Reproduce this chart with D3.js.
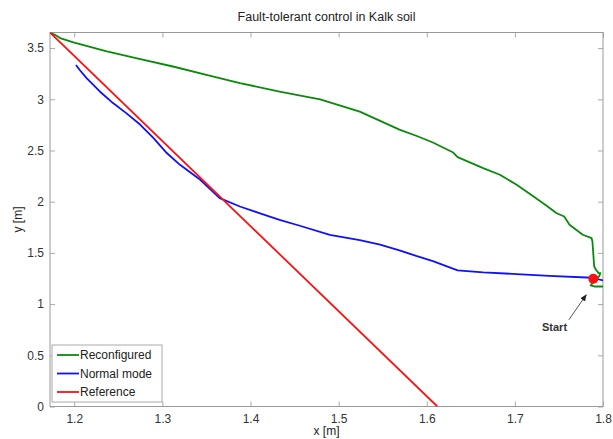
<!DOCTYPE html>
<html>
<head>
<meta charset="utf-8">
<script src="https://cdn.jsdelivr.net/npm/d3@7"></script>
<style>
  body { margin: 0; background: #fff; }
  svg { font-family: "Liberation Sans", Arial, sans-serif; }
  .tick text { fill: #333; font-size: 12px; }
</style>
</head>
<body>
<script>
// chart values
var xTicks = [1.2, 1.3, 1.4, 1.5, 1.6, 1.7, 1.8];
var yTicks = [0, 0.5, 1, 1.5, 2, 2.5, 3, 3.5];
var seriesNames = ["Reconfigured", "Normal mode", "Reference"];
var seriesColors = ["#0a8a0a", "#1010ff", "#ff1010"];

var reconfigured = [
  [1.1725, 3.652], [1.178, 3.630], [1.184, 3.598], [1.199, 3.555], [1.237, 3.467],
  [1.275, 3.393], [1.312, 3.320], [1.350, 3.239], [1.388, 3.158], [1.433, 3.075],
  [1.479, 3.000], [1.524, 2.880], [1.569, 2.703], [1.588, 2.644], [1.607, 2.578],
  [1.630, 2.480], [1.635, 2.435], [1.664, 2.328], [1.683, 2.263], [1.702, 2.165],
  [1.720, 2.058], [1.736, 1.960], [1.747, 1.889], [1.756, 1.855], [1.762, 1.774],
  [1.777, 1.677], [1.787, 1.645], [1.788, 1.611], [1.790, 1.367], [1.792, 1.335],
  [1.795, 1.303], [1.797, 1.303], [1.796, 1.276], [1.788, 1.205], [1.786, 1.182],
  [1.790, 1.172], [1.801, 1.172]
];
var normalMode = [
  [1.202, 3.335], [1.206, 3.288], [1.214, 3.207], [1.229, 3.076], [1.244, 2.963],
  [1.259, 2.865], [1.275, 2.751], [1.290, 2.621], [1.305, 2.475], [1.320, 2.360],
  [1.343, 2.214], [1.365, 2.035], [1.388, 1.953], [1.410, 1.889], [1.433, 1.823],
  [1.456, 1.765], [1.490, 1.675], [1.524, 1.625], [1.547, 1.580], [1.569, 1.525],
  [1.588, 1.470], [1.607, 1.420], [1.635, 1.330], [1.664, 1.309], [1.702, 1.293],
  [1.739, 1.276], [1.788, 1.257], [1.801, 1.230]
];
var reference = [[1.1725, 3.652], [1.612, 0]];
var startPoint = [1.789, 1.247];
var arrowTail = [1.7613, 0.847], arrowHead = [1.781, 1.091];
var startLabel = [1.745, 0.74];

var width = 613, height = 439;
var pLeft = 50, pRight = 603, pTop = 32.5, pBottom = 406.5;

var svg = d3.select("body").append("svg")
  .attr("width", width)
  .attr("height", height);

var x = d3.scaleLinear().domain([1.1725, 1.8]).range([pLeft, pRight]);
var y = d3.scaleLinear().domain([0, 3.652]).range([pBottom, pTop]);

var defs = svg.append("defs");
defs.append("clipPath").attr("id", "plotclip")
  .append("rect")
  .attr("x", pLeft).attr("y", pTop)
  .attr("width", pRight - pLeft).attr("height", pBottom - pTop);

defs.append("marker")
  .attr("id", "arrowhead")
  .attr("viewBox", "0 0 10 10")
  .attr("refX", 9).attr("refY", 5)
  .attr("markerWidth", 7).attr("markerHeight", 7)
  .attr("orient", "auto")
  .append("path").attr("d", "M0,1 L10,5 L0,9 Z").attr("fill", "#222");

// axes, ticks inward on all four sides
function styleAxis(g) {
  g.select(".domain").remove();
  g.selectAll(".tick line").attr("stroke", "#aaa");
}
svg.append("g").attr("transform", "translate(0," + pBottom + ")")
  .call(d3.axisBottom(x).tickValues(xTicks).tickFormat(d3.format("")).tickSizeInner(-5).tickPadding(8))
  .call(styleAxis);
svg.append("g").attr("transform", "translate(0," + pTop + ")")
  .call(d3.axisTop(x).tickValues(xTicks).tickFormat("").tickSizeInner(-5))
  .call(styleAxis);
svg.append("g").attr("transform", "translate(" + pLeft + ",0)")
  .call(d3.axisLeft(y).tickValues(yTicks).tickFormat(d3.format("")).tickSizeInner(-5).tickPadding(6))
  .call(styleAxis);
svg.append("g").attr("transform", "translate(" + pRight + ",0)")
  .call(d3.axisRight(y).tickValues(yTicks).tickFormat("").tickSizeInner(-5))
  .call(styleAxis);

svg.append("rect")
  .attr("x", pLeft).attr("y", pTop)
  .attr("width", pRight - pLeft).attr("height", pBottom - pTop)
  .attr("fill", "none").attr("stroke", "#999").attr("stroke-width", 1);

var line = d3.line().x(function(d) { return x(d[0]); }).y(function(d) { return y(d[1]); });

var plot = svg.append("g").attr("clip-path", "url(#plotclip)");
[reconfigured, normalMode, reference].forEach(function(s, i) {
  plot.append("path")
    .datum(s)
    .attr("d", line)
    .attr("fill", "none")
    .attr("stroke", seriesColors[i])
    .attr("stroke-width", 1.8)
    .attr("stroke-linejoin", "round");
});

svg.append("circle")
  .attr("cx", x(startPoint[0])).attr("cy", y(startPoint[1]))
  .attr("r", 5).attr("fill", "#ff1010");

svg.append("line")
  .attr("x1", x(arrowTail[0])).attr("y1", y(arrowTail[1]))
  .attr("x2", x(arrowHead[0])).attr("y2", y(arrowHead[1]))
  .attr("stroke", "#555").attr("stroke-width", 1)
  .attr("marker-end", "url(#arrowhead)");

svg.append("text")
  .attr("x", x(startLabel[0])).attr("y", y(startLabel[1]))
  .attr("text-anchor", "middle")
  .attr("font-size", 11).attr("font-weight", "bold").attr("fill", "#333")
  .text("Start");

// titles
svg.append("text")
  .attr("x", (pLeft + pRight) / 2).attr("y", 21)
  .attr("text-anchor", "middle").attr("font-size", 12.5).attr("fill", "#222")
  .text("Fault-tolerant control in Kalk soil");
svg.append("text")
  .attr("x", (pLeft + pRight) / 2).attr("y", 435)
  .attr("text-anchor", "middle").attr("font-size", 12).attr("fill", "#222")
  .text("x [m]");
svg.append("text")
  .attr("transform", "translate(22," + (pTop + pBottom) / 2 + ") rotate(-90)")
  .attr("text-anchor", "middle").attr("font-size", 12).attr("fill", "#222")
  .text("y [m]");

// legend
var legend = svg.append("g");
legend.append("rect")
  .attr("x", 52).attr("y", 345).attr("width", 110).attr("height", 57)
  .attr("fill", "#fff").attr("stroke", "#aaa");
seriesNames.forEach(function(name, i) {
  var ly = 355 + i * 18.5;
  legend.append("line")
    .attr("x1", 57).attr("x2", 79).attr("y1", ly).attr("y2", ly)
    .attr("stroke", seriesColors[i]).attr("stroke-width", 1.8);
  legend.append("text")
    .attr("x", 80).attr("y", ly + 4)
    .attr("font-size", 12).attr("fill", "#222")
    .text(name);
});
</script>
</body>
</html>
